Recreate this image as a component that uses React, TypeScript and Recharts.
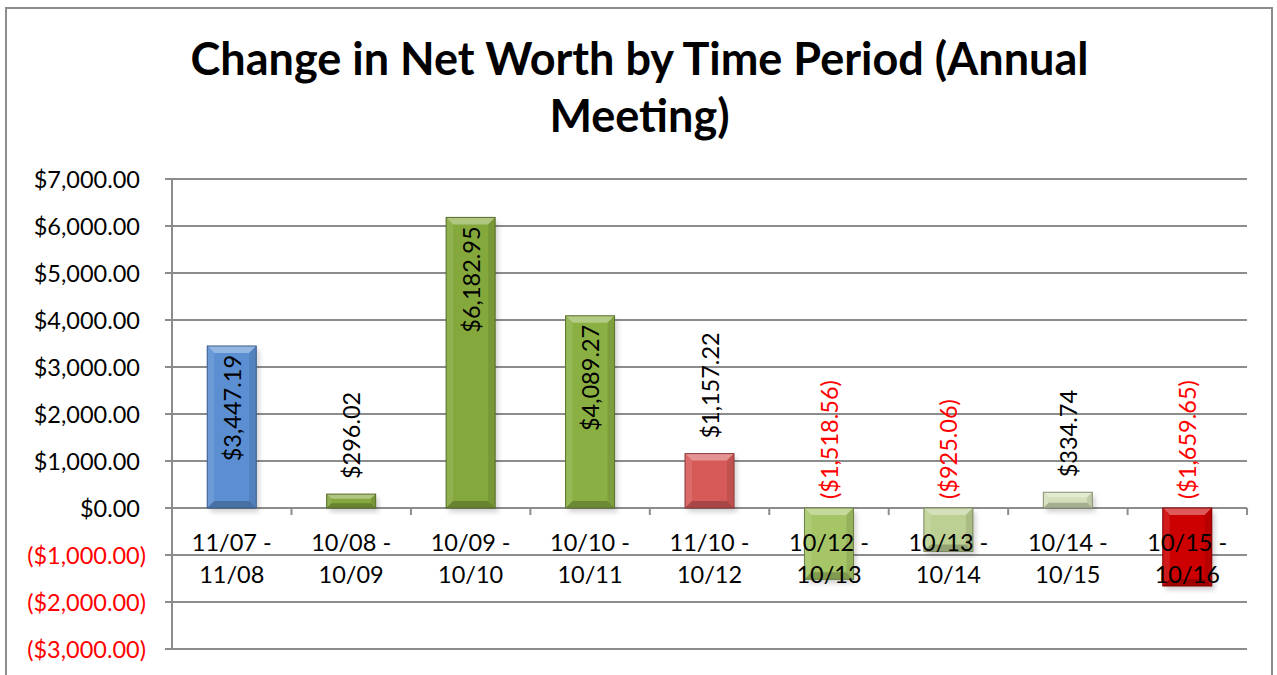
import React from 'react';
import { BarChart, Bar, XAxis, YAxis, CartesianGrid, LabelList, Cell } from 'recharts';

const periods = ['11/07 - 11/08', '10/08 - 10/09', '10/09 - 10/10', '10/10 - 10/11', '11/10 - 10/12', '10/12 - 10/13', '10/13 - 10/14', '10/14 - 10/15', '10/15 - 10/16'];
const changes = [3447.19, 296.02, 6182.95, 4089.27, 1157.22, -1518.56, -925.06, 334.74, -1659.65];
const barColors = ['#5B8FD2', '#86A83F', '#85A83D', '#8AB043', '#D65A58', '#A5C566', '#BDD093', '#D3DFB9', '#CC0000'];
const yTicks = [-3000, -2000, -1000, 0, 1000, 2000, 3000, 4000, 5000, 6000, 7000];

const data = periods.map((p, i) => ({ period: p, value: changes[i], color: barColors[i] }));

const FONT = 'Lato, "Open Sans", sans-serif';
const FS = 23.5;
const GAP = 0.295;

const fmt = (v: number) => {
  const s = '$' + Math.abs(v).toLocaleString('en-US', { minimumFractionDigits: 2, maximumFractionDigits: 2 });
  return v < 0 ? '(' + s + ')' : s;
};

function shade(hex: string, f: number) {
  const n = parseInt(hex.slice(1), 16);
  let r = (n >> 16) & 255, g = (n >> 8) & 255, b = n & 255;
  if (f >= 0) { r += (255 - r) * f; g += (255 - g) * f; b += (255 - b) * f; }
  else { r *= 1 + f; g *= 1 + f; b *= 1 + f; }
  return `rgb(${Math.round(r)},${Math.round(g)},${Math.round(b)})`;
}

const BevelBar = (props: any) => {
  const { x, y, width, height, payload } = props;
  const top = Math.min(y, y + height);
  const h = Math.abs(height);
  const c = payload.color;
  const b = Math.min(7, h / 3, width / 2);
  const x2 = x + width, y2 = top + h;
  return (
    <g>
      <rect x={x + 3} y={top + 4} width={width} height={h} fill="rgba(0,0,0,0.18)" filter="url(#blurShadow)" />
      <rect x={x} y={top} width={width} height={h} fill={c} />
      <polygon points={`${x},${top} ${x2},${top} ${x2 - b},${top + b} ${x + b},${top + b}`} fill={shade(c, 0.35)} />
      <polygon points={`${x},${top} ${x + b},${top + b} ${x + b},${y2 - b} ${x},${y2}`} fill={shade(c, 0.1)} />
      <polygon points={`${x2},${top} ${x2 - b},${top + b} ${x2 - b},${y2 - b} ${x2},${y2}`} fill={shade(c, -0.1)} />
      <polygon points={`${x},${y2} ${x + b},${y2 - b} ${x2 - b},${y2 - b} ${x2},${y2}`} fill={shade(c, -0.22)} />
      <rect x={x} y={top} width={width} height={h} fill="none" stroke={shade(c, -0.35)} strokeWidth={1} />
    </g>
  );
};

const BarLabel = (props: any) => {
  const { x, y, width, height, value, index } = props;
  const cx = x + width / 2;
  const zeroY = value >= 0 ? y + height : (height < 0 ? y + height : y);
  const barTop = Math.min(y, y + height);
  const catW = width / (1 - 2 * GAP);
  const parts = periods[index].split(' - ');
  let anchorY: number;
  let anchor: 'start' | 'end';
  if (value >= 0 && Math.abs(height) > 130) { anchorY = barTop + 9; anchor = 'end'; }
  else if (value >= 0) { anchorY = barTop - 15; anchor = 'start'; }
  else { anchorY = zeroY - 9; anchor = 'start'; }
  return (
    <g>
      <line x1={cx + catW / 2} y1={zeroY} x2={cx + catW / 2} y2={zeroY + 7} stroke="#8c8c8c" strokeWidth={2} />
      <text x={cx} y={zeroY + 43} textAnchor="middle" fontSize={FS} fontFamily={FONT} fill="#000">{parts[0] + ' -'}</text>
      <text x={cx} y={zeroY + 75} textAnchor="middle" fontSize={FS} fontFamily={FONT} fill="#000">{parts[1]}</text>
      <text x={cx} y={anchorY} transform={`rotate(-90, ${cx}, ${anchorY})`} textAnchor={anchor} dominantBaseline="central" fontSize={FS} fontFamily={FONT} fill={value < 0 ? '#FF0000' : '#000'}>{fmt(value)}</text>
    </g>
  );
};

const YTick = (props: any) => {
  const { y, payload } = props;
  const v = payload.value;
  return (
    <text x={v < 0 ? 146 : 140} y={y} textAnchor="end" dominantBaseline="central" fontSize={FS} fontFamily={FONT} fill={v < 0 ? '#FF0000' : '#000'}>{fmt(v)}</text>
  );
};

export default function App() {
  return (
    <div style={{ position: 'absolute', left: 0, top: 0, width: 1277, height: 675, overflow: 'hidden', background: '#fff' }}>
      <div style={{ position: 'absolute', left: 5, top: 7, width: 1268, height: 720, border: '2px solid #8c8c8c', boxSizing: 'border-box' }} />
      <div style={{ position: 'absolute', left: 6, top: 30, width: 1267, textAlign: 'center', fontFamily: FONT, fontWeight: 700, fontSize: 45, lineHeight: '57px', color: '#000' }}>
        Change in Net Worth by Time Period (Annual<br />Meeting)
      </div>
      <BarChart width={1277} height={675} data={data} margin={{ top: 179, right: 30, bottom: 26, left: 0 }} barCategoryGap={`${GAP * 100}%`} style={{ position: 'absolute', left: 0, top: 0 }}>
        <defs>
          <filter id="blurShadow" x="-20%" y="-20%" width="140%" height="140%">
            <feGaussianBlur stdDeviation="2.5" />
          </filter>
        </defs>
        <CartesianGrid horizontal vertical={false} stroke="#8c8c8c" strokeWidth={2} />
        <XAxis dataKey="period" hide />
        <YAxis type="number" domain={[-3000, 7000]} ticks={yTicks} width={172} interval={0} tickSize={7} axisLine={{ stroke: '#8c8c8c', strokeWidth: 2 }} tickLine={{ stroke: '#8c8c8c', strokeWidth: 2 }} tick={<YTick />} />
        <Bar dataKey="value" isAnimationActive={false} shape={<BevelBar />}>
          {data.map((d, i) => <Cell key={i} fill={d.color} />)}
          <LabelList dataKey="value" content={<BarLabel />} />
        </Bar>
      </BarChart>
    </div>
  );
}
